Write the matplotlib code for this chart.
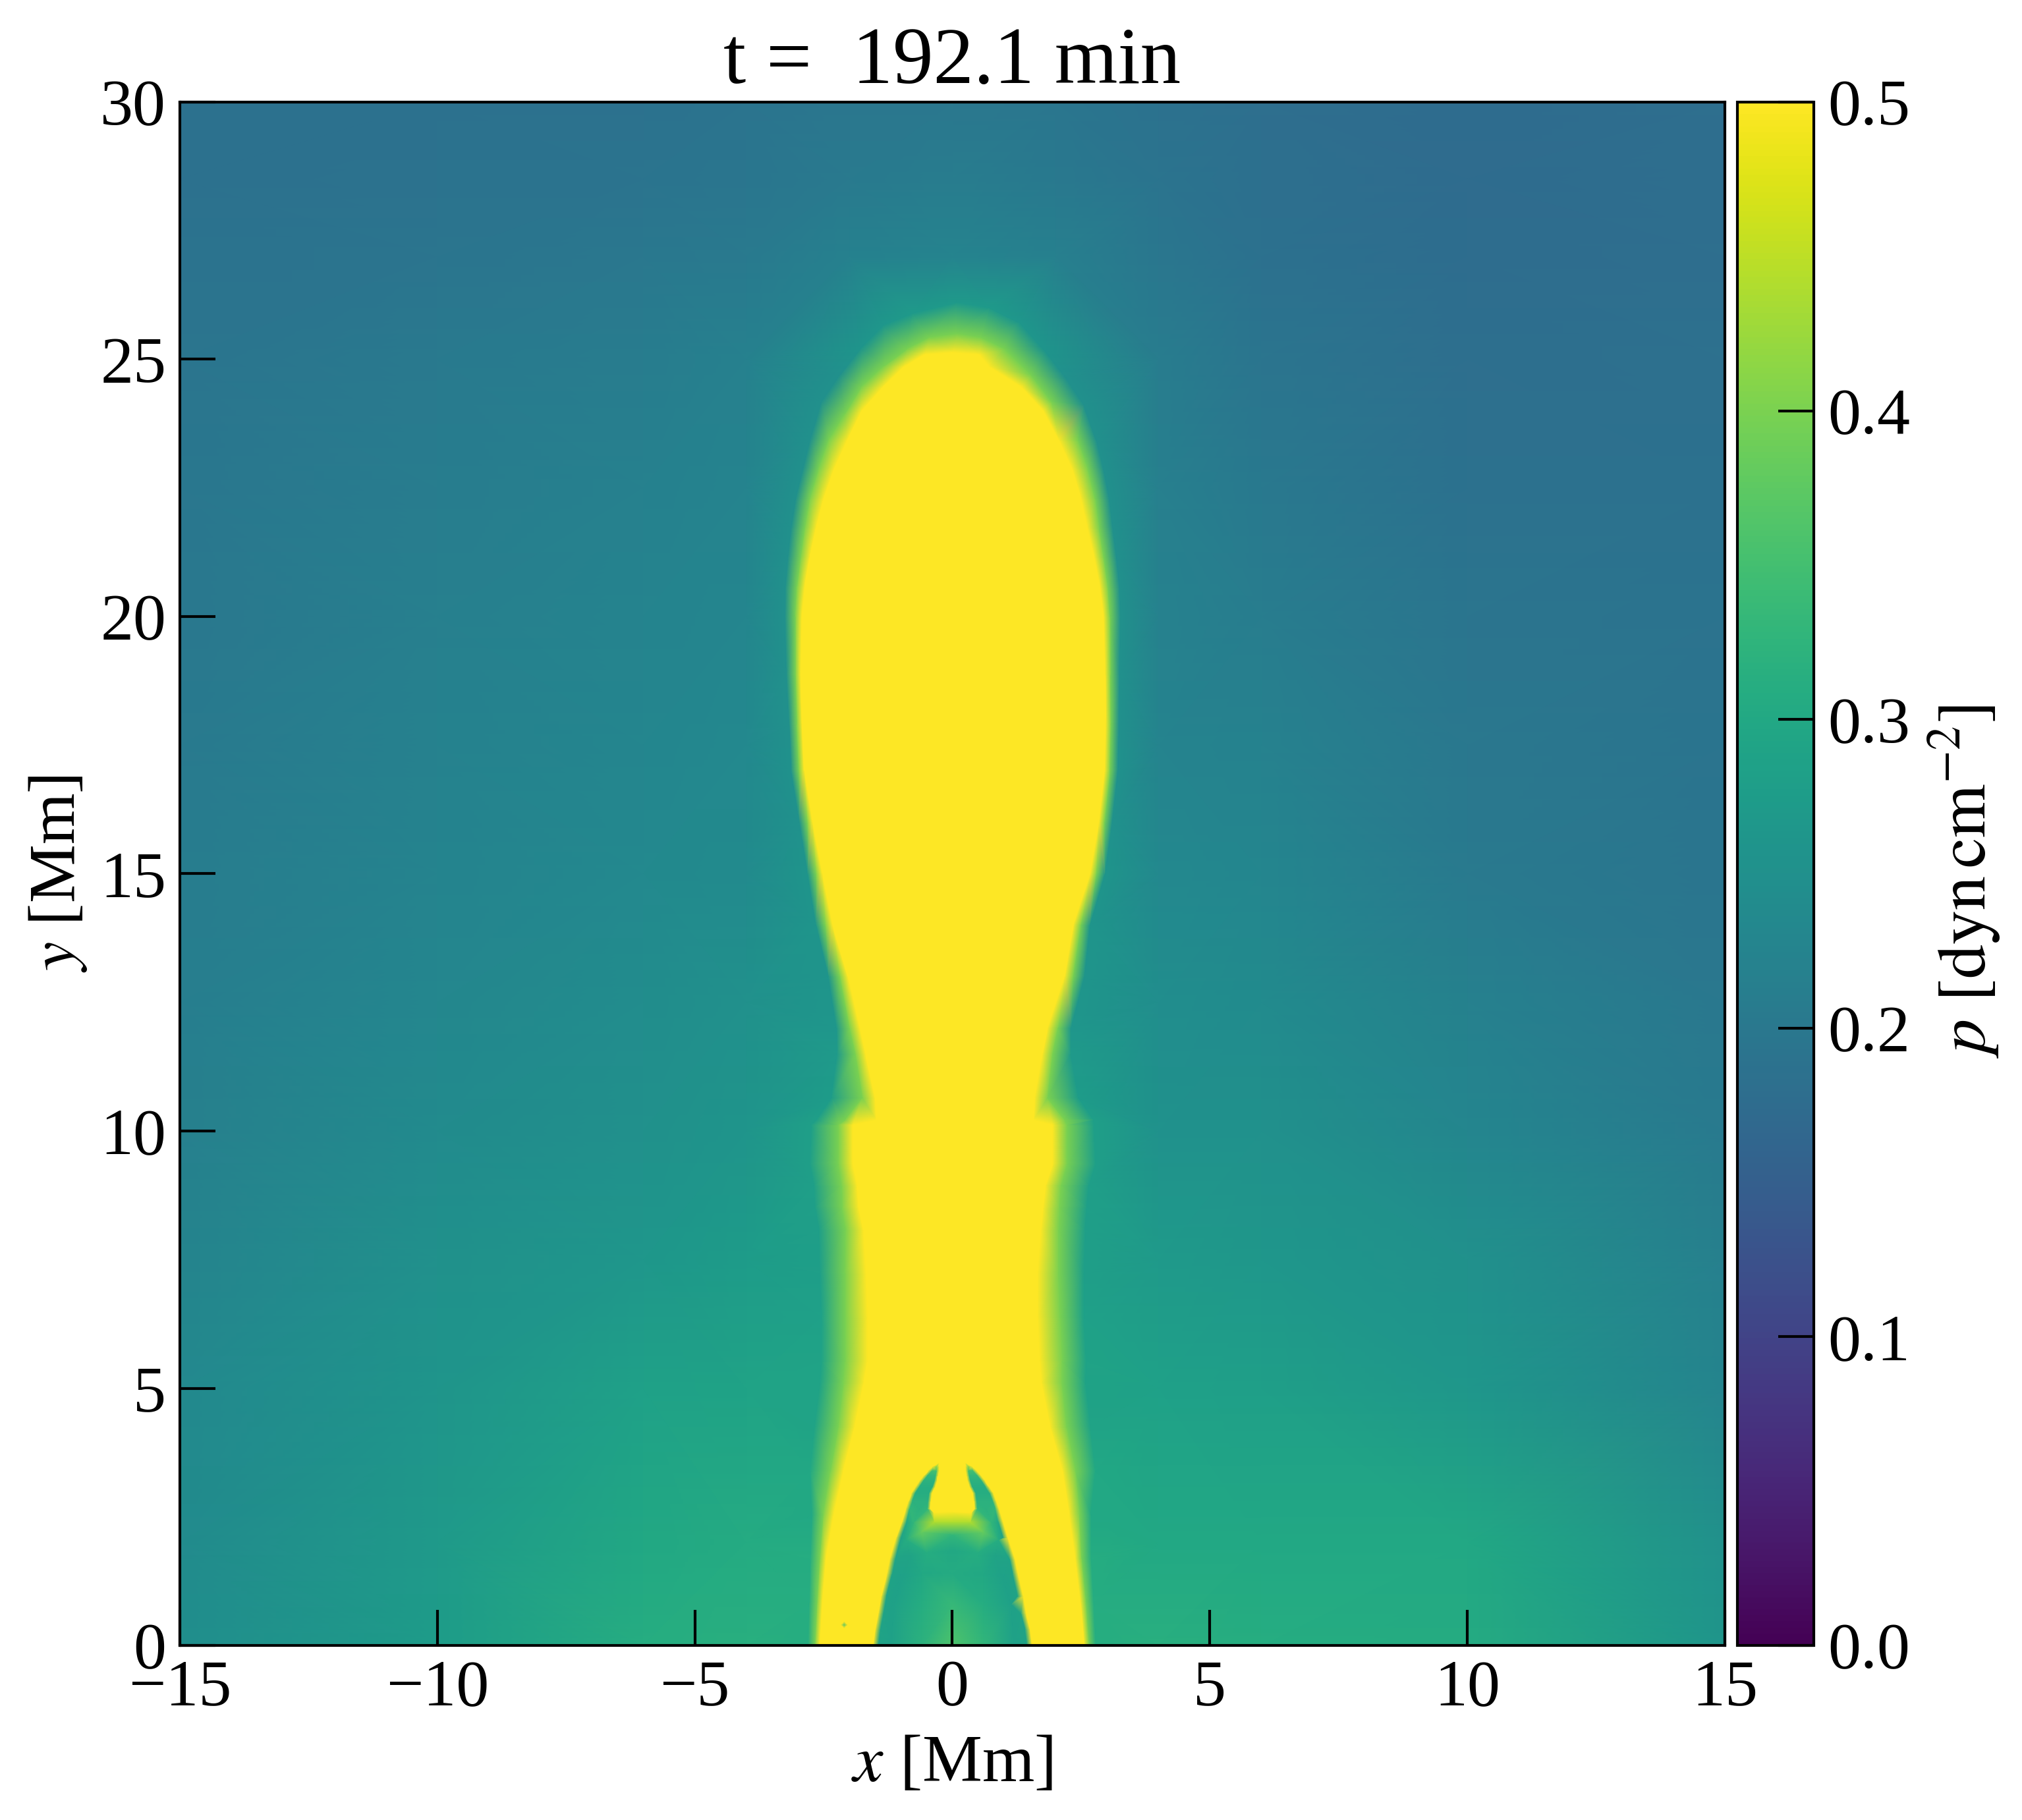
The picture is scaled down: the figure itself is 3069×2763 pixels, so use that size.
import numpy as np
import matplotlib
matplotlib.use("Agg")
import matplotlib.pyplot as plt

plt.rcParams["font.family"] = ["Liberation Serif", "DejaVu Serif"]
plt.rcParams["mathtext.fontset"] = "stix"

# background pressure (rows bg_y, columns bg_x)
bg_x = [-15, -10, -6, -4, -2, 0, 2, 4, 6, 10, 15]
bg_y = [0, 2, 5, 7.5, 10, 12.5, 15, 17.5, 20, 22.5, 25, 27, 28.5, 30]
bg_p = [
    [.245, .275, .310, .315, .320, .350, .320, .315, .310, .305, .260],
    [.240, .270, .300, .305, .310, .330, .310, .300, .300, .300, .250],
    [.235, .260, .285, .290, .300, .300, .300, .285, .280, .265, .225],
    [.225, .250, .265, .275, .280, .280, .280, .270, .265, .250, .215],
    [.215, .240, .250, .260, .270, .270, .270, .255, .250, .230, .205],
    [.212, .232, .243, .250, .260, .260, .260, .245, .240, .218, .200],
    [.210, .225, .235, .240, .250, .250, .250, .235, .230, .205, .195],
    [.205, .220, .230, .235, .245, .250, .245, .225, .220, .200, .192],
    [.200, .215, .225, .230, .240, .250, .240, .220, .210, .195, .190],
    [.198, .210, .218, .225, .235, .240, .235, .215, .203, .187, .187],
    [.195, .205, .210, .218, .235, .240, .230, .210, .195, .180, .185],
    [.190, .195, .200, .205, .218, .225, .215, .198, .187, .177, .180],
    [.187, .190, .192, .197, .205, .210, .202, .192, .182, .175, .180],
    [.185, .187, .188, .192, .198, .200, .197, .188, .180, .175, .180],
]

# plume edge, per height: where it reaches 0.5, and how far out the glow goes
plume_y = [0, .83, 1.68, 2.54, 3.39, 4.24, 5.1, 5.52, 6.38, 7.23, 8.08, 8.51, 8.94, 9.36,
           10.12, 10.22, 10.64, 11.5, 12, 13, 14, 15, 16, 17, 17.9, 18.86, 20, 20.58,
           21.15, 21.71, 22.29, 22.86, 23.43]
plume_left = [-2.58, -2.53, -2.46, -2.31, -2.12, -1.9, -1.72, -1.65, -1.65, -1.68, -1.73, -1.82,
              -1.85, -1.94, -1.94, -1.48, -1.5, -1.69, -1.8, -2.03, -2.33, -2.53, -2.72,
              -2.88, -2.92, -2.95, -2.93, -2.87, -2.77, -2.65, -2.5, -2.3, -2.04]
plume_right = [2.56, 2.49, 2.39, 2.27, 2.14, 1.9, 1.73, 1.7, 1.66, 1.66, 1.72, 1.76,
               1.81, 1.95, 1.95, 1.58, 1.6, 1.75, 1.85, 2.18, 2.35, 2.68, 2.85,
               2.96, 2.98, 2.97, 2.94, 2.87, 2.76, 2.63, 2.5, 2.33, 2.07]
glow_mid = [.09, .1, .12, .2, .25, .32, .4, .43, .43, .4, .34, .32, .3, .27, .27,
            .6, .25, .2, .2, .16, .14, .12, .1, .1, .1,
            .1, .12, .15, .18, .22, .27, .3, .36]
glow_out = [.22, .25, .3, .42, .64, .78, .85, .89, .89, .89, .86, .85, .84, .83, .8,
            1.15, .85, .55, .45, .38, .32, .28, .25, .25, .25,
            .27, .32, .37, .42, .48, .54, .6, .72]
glow_p = [.31, .31, .31, .30, .30, .29, .29, .29, .285, .28, .28, .28, .28, .28, .28,
          .28, .275, .27, .265, .26, .26, .26, .255, .255, .25,
          .25, .25, .25, .25, .25, .25, .25, .25]

# crown of the plume: edge at 0.5, then the 0.4 ring and the outer ring
crown_x = [-1.76, -1.35, -.94, -.54, 0, .52, .72, 1.35, 1.77]
crown_y = [24, 24.46, 24.86, 25.1, 25.14, 25.1, 24.86, 24.46, 24]
ring_x = [-2.08, -1.77, -1.34, -.88, -.45, .09, .55, 1.0, 1.52, 1.92]
ring_y = [23.95, 24.46, 24.86, 25.2, 25.42, 25.49, 25.42, 25.2, 24.69, 24.17]
outer_x = [-2.54, -2.19, -1.79, -1.34, -.77, .09, .72, 1.29, 1.8, 2.2, 2.55]
outer_y = [24.17, 24.69, 25.2, 25.66, 25.89, 26.1, 26.0, 25.72, 25.15, 24.63, 24.11]
outer_p = [.25, .25, .26, .265, .27, .27, .27, .265, .26, .25, .25]

# dark cavity at the foot, outer edge of the arch
arch_y = [0, .31, .62, .96, 1.39, 1.68, 2.1, 2.4]
arch_left = [-1.54, -1.5, -1.44, -1.38, -1.27, -1.21, -1.09, -.98]
arch_right = [1.55, 1.51, 1.43, 1.37, 1.27, 1.21, 1.07, .98]
arch_in = [.10, .10, .10, .10, .10, .10, .09, .09]
arch_p = [.29, .29, .29, .29, .29, .29, .29, .30]

# the two prongs on top of the arch (distance from x=0), same heights on both sides
prong_y = [2.66, 2.8, 2.96, 3.08, 3.2, 3.3, 3.4, 3.47]
prong_outer = [.9, .85, .79, .71, .63, .55, .46, .38]
prong_inner = [.43, .42, .4, .34, .3, .28, .26, .26]
prong_p = [.33, .32, .31, .31, .32, .33, .35, .40]

# notch between the prongs, all at 0.5
notch_x = [-.36, 0, .37, -.26, .26, 0, 0, -.15, .15]
notch_y = [2.58, 2.6, 2.58, 3.54, 3.54, 3.4, 3.0, 2.8, 2.8]

# values inside the cavity
cav_x = [-.65, .65, 0, -.35, .35, -.75, .75, 0, -.6, .6, -.9, .9, 0, -.5, .5, -.85, .85, 0, -.6, .6,
         -1, 1, 0, -.6, .6, -1.15, 1.15, 0, -.6, .6, -1.2, 1.2]
cav_y = [2.65, 2.65, 2.4, 2.4, 2.4, 2.4, 2.4, 2.15, 2.2, 2.2, 2.05, 2.05, 1.85, 1.8, 1.8, 1.75, 1.75,
         1.4, 1.4, 1.4, 1.3, 1.3, .8, .8, .8, .8, .8, 0, 0, 0, 0, 0]
cav_p = [.32, .32, .44, .44, .44, .33, .33, .33, .38, .38, .31, .31, .30, .31, .31, .29, .29,
         .305, .30, .30, .285, .285, .335, .31, .31, .285, .285, .36, .32, .33, .285, .285]

# small speck in the plume near the foot
speck_x = [-2.1, -2.16, -2.04, -2.1, -2.1]
speck_y = [.4, .4, .4, .46, .34]
speck_p = [.36, .5, .5, .5, .5]

xticks = [-15, -10, -5, 0, 5, 10, 15]
yticks = [0, 5, 10, 15, 20, 25, 30]
cticks = [0, .1, .2, .3, .4, .5]

# collect all the vertices
px, py, pp = [], [], []
left = np.array(plume_left)
right = np.array(plume_right)
lev = np.array(plume_y)
for gx, gy, gp in [(bg_x[j], bg_y[i], bg_p[i][j]) for i in range(len(bg_y)) for j in range(len(bg_x))]:
    if gy < 26.6:
        l = np.interp(gy, lev, left - np.array(glow_out)) - .35
        r = np.interp(gy, lev, right + np.array(glow_out)) + .35
        if l < gx < r:
            continue
    px.append(gx); py.append(gy); pp.append(gp)
for i, y in enumerate(plume_y):
    px += [plume_left[i], plume_right[i]]
    py += [y, y]
    pp += [.5, .5]
    px += [plume_left[i] - glow_mid[i], plume_right[i] + glow_mid[i]]
    py += [y, y]
    pp += [.4, .4]
    px += [plume_left[i] - glow_out[i], plume_right[i] + glow_out[i]]
    py += [y, y]
    pp += [glow_p[i], glow_p[i]]
px += crown_x; py += crown_y; pp += [.5] * len(crown_x)
px += ring_x; py += ring_y; pp += [.4] * len(ring_x)
px += outer_x; py += outer_y; pp += outer_p
for i, y in enumerate(arch_y):
    px += [arch_left[i], arch_right[i], arch_left[i] + arch_in[i], arch_right[i] - arch_in[i]]
    py += [y] * 4
    pp += [.5, .5, arch_p[i], arch_p[i]]
for i, y in enumerate(prong_y):
    for sign in [-1, 1]:
        px += [sign * prong_outer[i], sign * (prong_outer[i] - .07),
               sign * (prong_inner[i] + .05), sign * prong_inner[i]]
        py += [y] * 4
        pp += [.5, prong_p[i], prong_p[i], .5]
px += notch_x; py += notch_y; pp += [.5] * len(notch_x)
px += cav_x; py += cav_y; pp += cav_p
px += speck_x; py += speck_y; pp += speck_p

fig = plt.figure(figsize=(3070 / 300, 2763 / 300), dpi=300)
ax = fig.add_axes([273 / 3070, 1 - 2498 / 2763, 2345 / 3070, 2343 / 2763])
cax = fig.add_axes([2637 / 3070, 1 - 2498 / 2763, 116 / 3070, 2343 / 2763])

im = ax.tripcolor(np.array(px, float), np.array(py, float), np.array(pp, float), shading="gouraud",
                  cmap="viridis", vmin=0, vmax=.5)
ax.set_xlim(-15, 15)
ax.set_ylim(0, 30)
ax.set_xticks(xticks)
ax.set_yticks(yticks)
ax.tick_params(direction="in", length=13, width=1, labelsize=24, pad=5)
for s in ax.spines.values():
    s.set_linewidth(1)
ax.set_xlabel(r"$x$ [Mm]", fontsize=24.5, labelpad=6)
ax.set_ylabel(r"$y$ [Mm]", fontsize=24, labelpad=4)
ax.set_title("t =  192.1 min", fontsize=29.5, pad=7)

cb = fig.colorbar(im, cax=cax)
cb.set_ticks(cticks)
cb.ax.tick_params(direction="in", length=13, width=1, labelsize=24, pad=5)
cb.outline.set_linewidth(1)
cb.set_label(r"$p\ [\mathrm{dyn\,cm^{-2}}]$", fontsize=25, labelpad=6, y=.495)

fig.savefig("out.png", dpi=300)
